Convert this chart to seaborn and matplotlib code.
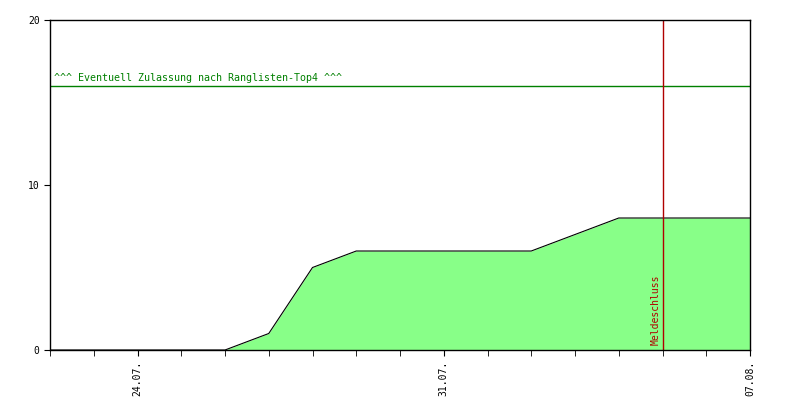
import pandas as pd
import seaborn as sns
import matplotlib.pyplot as plt
import matplotlib.dates as mdates

# cumulative entries per day
days = pd.date_range("2024-07-22", "2024-08-07", freq="D")
counts = [0, 0, 0, 0, 0, 1, 5, 6, 6, 6, 6, 6, 7, 8, 8, 8, 8]
tick_days = ["2024-07-24", "2024-07-31", "2024-08-07"]
tick_labels = ["24.07.", "31.07.", "07.08."]
limit_value = 16
limit_text = "^^^ Eventuell Zulassung nach Ranglisten-Top4 ^^^"
deadline = "2024-08-05"
deadline_text = "Meldeschluss"

df = pd.DataFrame({"day": days, "count": counts})

sns.set_style("white")
plt.rcParams["font.family"] = ["DejaVu Sans Mono"]

fig = plt.figure(figsize=(8, 4), dpi=100)
ax = fig.add_axes([0.0625, 0.125, 0.875, 0.825])

ax.fill_between(df["day"], df["count"], 0, color="#88ff88", linewidth=0)
sns.lineplot(data=df, x="day", y="count", ax=ax, color="black", linewidth=0.8)

ax.axhline(limit_value, color="green", linewidth=1)
ax.text(df["day"].iloc[0] + pd.Timedelta(hours=2), limit_value + 0.2, limit_text,
        color="green", fontsize=7.2, va="bottom", ha="left")

dl = pd.Timestamp(deadline)
ax.axvline(dl, color="#b00000", linewidth=1)
ax.text(dl - pd.Timedelta(hours=1), 0.3, deadline_text, color="#b00000",
        fontsize=7, rotation=90, ha="right", va="bottom")

ax.set_xlim(days[0], days[-1])
ax.set_ylim(0, 20)
ax.set_yticks([0, 10, 20])
ax.set_xticks(pd.to_datetime(tick_days))
ax.set_xticklabels(tick_labels, rotation=90, fontsize=7)
ax.xaxis.set_minor_locator(mdates.DayLocator())
ax.tick_params(axis="y", labelsize=7, length=4, direction="out", left=True,
               colors="black")
ax.tick_params(axis="x", which="both", length=4, direction="out", bottom=True,
               colors="black")
ax.set_xlabel("")
ax.set_ylabel("")
for s in ax.spines.values():
    s.set_color("black")
    s.set_linewidth(1)

plt.savefig("out.png", dpi=100)
